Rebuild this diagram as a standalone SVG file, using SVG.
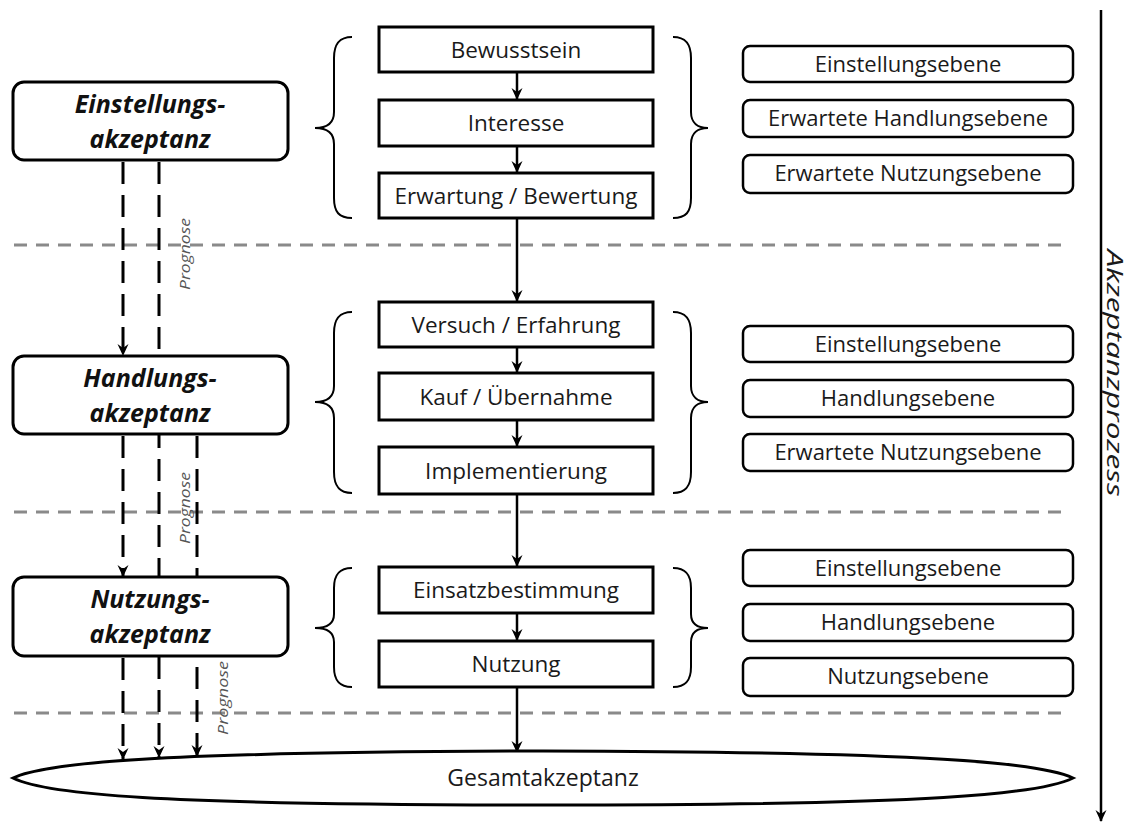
<svg xmlns="http://www.w3.org/2000/svg" width="1136" height="824" viewBox="0 0 1136 824">
<defs>
<marker id="ah" viewBox="0 0 12 12" markerWidth="12" markerHeight="12" refX="11" refY="6" orient="auto" markerUnits="userSpaceOnUse">
<path d="M0,0.5 L12,6 L0,11.5 L4,6 z" fill="#000"/>
</marker>
</defs>
<style>
.sep{stroke:#8a8a8a;stroke-width:3;stroke-dasharray:13 9;fill:none}
.dash{stroke:#000;stroke-width:3;stroke-dasharray:22 11;fill:none}
.flow{stroke:#000;stroke-width:2.5;fill:none}
.box{fill:#fff;stroke:#000;stroke-width:3}
.lvl{fill:#fff;stroke:#000;stroke-width:2.5}
.brace{fill:none;stroke:#000;stroke-width:2}
.t{font-family:"Open Sans","Liberation Sans",sans-serif;font-size:22.5px;fill:#1a1a1a;text-anchor:middle}
.tb{font-family:"Open Sans","Liberation Sans",sans-serif;font-size:25px;font-weight:bold;font-style:italic;fill:#111;text-anchor:middle}
.tr{font-family:"Open Sans","Liberation Sans",sans-serif;font-size:22px;fill:#1a1a1a;text-anchor:middle}
.pg{font-family:"Open Sans","Liberation Sans",sans-serif;font-size:15px;font-style:italic;fill:#555;text-anchor:middle}
</style>
<rect width="1136" height="824" fill="#fff"/>

<g id="separators">
<line class="sep" x1="14" y1="245" x2="1067" y2="245"/>
<line class="sep" x1="14" y1="512" x2="1067" y2="512"/>
<line class="sep" x1="14" y1="713" x2="1067" y2="713"/>
</g>

<g id="connectors">
<line class="dash" x1="123" y1="162" x2="123" y2="355" marker-end="url(#ah)"/>
<line class="dash" x1="123" y1="436" x2="123" y2="576" marker-end="url(#ah)"/>
<line class="dash" x1="123" y1="658" x2="123" y2="759" marker-end="url(#ah)"/>
<line class="dash" x1="159" y1="162" x2="159" y2="757" marker-end="url(#ah)"/>
<line class="dash" x1="197" y1="436" x2="197" y2="756" marker-end="url(#ah)"/>
<line class="flow" x1="517" y1="72" x2="517" y2="99" marker-end="url(#ah)"/>
<line class="flow" x1="517" y1="146" x2="517" y2="172" marker-end="url(#ah)"/>
<line class="flow" x1="517" y1="218" x2="517" y2="301" marker-end="url(#ah)"/>
<line class="flow" x1="517" y1="347" x2="517" y2="372" marker-end="url(#ah)"/>
<line class="flow" x1="517" y1="420" x2="517" y2="446" marker-end="url(#ah)"/>
<line class="flow" x1="517" y1="494" x2="517" y2="566" marker-end="url(#ah)"/>
<line class="flow" x1="517" y1="613" x2="517" y2="640" marker-end="url(#ah)"/>
<line class="flow" x1="517" y1="687" x2="517" y2="752" marker-end="url(#ah)"/>
<line class="flow" x1="1101" y1="10" x2="1101" y2="821" marker-end="url(#ah)"/>
</g>

<g id="prognose-labels">
<text class="pg" transform="translate(190,254) rotate(-90)" textLength="72" lengthAdjust="spacingAndGlyphs">Prognose</text>
<text class="pg" transform="translate(190,508) rotate(-90)" textLength="72" lengthAdjust="spacingAndGlyphs">Prognose</text>
<text class="pg" transform="translate(228,698) rotate(-90)" textLength="74" lengthAdjust="spacingAndGlyphs">Prognose</text>
</g>

<g id="einstellungsakzeptanz">
<rect class="box" x="13" y="82" width="275" height="78" rx="11"/>
<text class="tb" x="150" y="113">Einstellungs-</text>
<text class="tb" x="150" y="148">akzeptanz</text>
</g>
<g id="handlungsakzeptanz">
<rect class="box" x="13" y="356" width="275" height="78" rx="11"/>
<text class="tb" x="150" y="387">Handlungs-</text>
<text class="tb" x="150" y="422">akzeptanz</text>
</g>
<g id="nutzungsakzeptanz">
<rect class="box" x="13" y="577" width="275" height="79" rx="11"/>
<text class="tb" x="150" y="608">Nutzungs-</text>
<text class="tb" x="150" y="643">akzeptanz</text>
</g>

<g id="bewusstsein"><rect class="box" x="379" y="27" width="274" height="45"/><text class="t" x="516" y="58">Bewusstsein</text></g>
<g id="interesse"><rect class="box" x="379" y="100" width="274" height="46"/><text class="t" x="516" y="131">Interesse</text></g>
<g id="erwartung"><rect class="box" x="379" y="173" width="274" height="45"/><text class="t" x="516" y="204">Erwartung / Bewertung</text></g>
<g id="versuch"><rect class="box" x="379" y="302" width="274" height="45"/><text class="t" x="516" y="333">Versuch / Erfahrung</text></g>
<g id="kauf"><rect class="box" x="379" y="373" width="274" height="47"/><text class="t" x="516" y="405">Kauf / Übernahme</text></g>
<g id="implementierung"><rect class="box" x="379" y="447" width="274" height="47"/><text class="t" x="516" y="479">Implementierung</text></g>
<g id="einsatzbestimmung"><rect class="box" x="379" y="567" width="274" height="46"/><text class="t" x="516" y="598">Einsatzbestimmung</text></g>
<g id="nutzung"><rect class="box" x="379" y="641" width="274" height="46"/><text class="t" x="516" y="672">Nutzung</text></g>

<g id="braces">
<path class="brace" d="M352,37 C339,37 334,44 334,58 L334,112 C334,123 327,128 315,128 C327,128 334,133 334,144 L334,198 C334,212 339,218 352,218"/>
<path class="brace" d="M673,37 C686,37 691,44 691,58 L691,112 C691,123 698,128 708,128 C698,128 691,133 691,144 L691,198 C691,212 686,218 673,218"/>
<path class="brace" d="M352,312 C339,312 334,319 334,333 L334,386 C334,397 327,402 315,402 C327,402 334,407 334,418 L334,472 C334,486 339,493 352,493"/>
<path class="brace" d="M673,312 C686,312 691,319 691,333 L691,386 C691,397 698,402 708,402 C698,402 691,407 691,418 L691,472 C691,486 686,493 673,493"/>
<path class="brace" d="M352,568 C339,568 334,575 334,588 L334,614 C334,624 327,628 315,628 C327,628 334,632 334,642 L334,667 C334,680 339,687 352,687"/>
<path class="brace" d="M673,568 C686,568 691,575 691,588 L691,614 C691,624 698,628 708,628 C698,628 691,632 691,642 L691,667 C691,680 686,687 673,687"/>
</g>

<g id="ebenen-1">
<rect class="lvl" x="743" y="46" width="330" height="36" rx="7"/><text class="tr" x="908" y="72">Einstellungsebene</text>
<rect class="lvl" x="743" y="100" width="330" height="37" rx="7"/><text class="tr" x="908" y="126">Erwartete Handlungsebene</text>
<rect class="lvl" x="743" y="155" width="330" height="38" rx="7"/><text class="tr" x="908" y="181">Erwartete Nutzungsebene</text>
</g>
<g id="ebenen-2">
<rect class="lvl" x="743" y="326" width="330" height="36" rx="7"/><text class="tr" x="908" y="352">Einstellungsebene</text>
<rect class="lvl" x="743" y="380" width="330" height="37" rx="7"/><text class="tr" x="908" y="406">Handlungsebene</text>
<rect class="lvl" x="743" y="434" width="330" height="37" rx="7"/><text class="tr" x="908" y="460">Erwartete Nutzungsebene</text>
</g>
<g id="ebenen-3">
<rect class="lvl" x="743" y="550" width="330" height="36" rx="7"/><text class="tr" x="908" y="576">Einstellungsebene</text>
<rect class="lvl" x="743" y="604" width="330" height="37" rx="7"/><text class="tr" x="908" y="630">Handlungsebene</text>
<rect class="lvl" x="743" y="658" width="330" height="38" rx="7"/><text class="tr" x="908" y="684">Nutzungsebene</text>
</g>

<g id="gesamtakzeptanz">
<path d="M13,778 C45,763 150,752 543,751 C936,752 1041,763 1073,778 C1041,794 936,805 543,805 C150,805 45,794 13,778 Z" fill="#fff" stroke="#000" stroke-width="3"/>
<text class="t" x="543" y="786" style="font-size:23px">Gesamtakzeptanz</text>
</g>

<g id="akzeptanzprozess">
<text class="t" transform="translate(1107,373) rotate(90)" textLength="247" lengthAdjust="spacingAndGlyphs" style="font-style:italic;font-size:22px">Akzeptanzprozess</text>
</g>
</svg>
